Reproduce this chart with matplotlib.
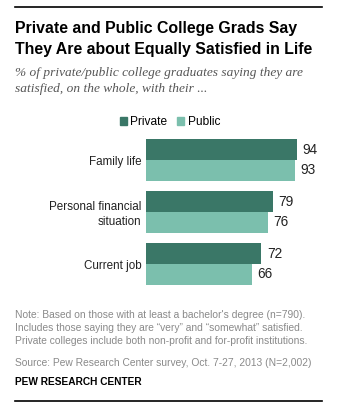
import matplotlib
matplotlib.use("Agg")
import matplotlib.pyplot as plt
from matplotlib.patches import Patch
from matplotlib.lines import Line2D

# data
categories = ["Family life", "Personal financial\nsituation", "Current job"]
private = [94, 79, 72]
public = [93, 76, 66]
series_names = ["Private", "Public"]

dark = "#3a7767"
light = "#7bbfad"

W, H = 337, 416
fig = plt.figure(figsize=(W / 100, H / 100), dpi=100)


def fx(px):
    return px / W


def fy(py):
    return 1 - py / H


sans = ["Liberation Sans", "DejaVu Sans"]
serif = ["Liberation Serif", "DejaVu Serif"]

# rules at top and bottom
fig.add_artist(Line2D([fx(15), fx(322)], [fy(7), fy(7)], color="black", lw=1.2))
fig.add_artist(Line2D([fx(15), fx(322)], [fy(401), fy(401)], color="black", lw=1.2))

fig.text(fx(15), fy(33), "Private and Public College Grads Say", fontsize=11.4,
         fontweight="bold", family=sans, va="baseline")
fig.text(fx(15), fy(54), "They Are about Equally Satisfied in Life", fontsize=11.4,
         fontweight="bold", family=sans, va="baseline")
fig.text(fx(15), fy(76), "% of private/public college graduates saying they are",
         fontsize=9.6, style="italic", family=serif, color="#555555", va="baseline")
fig.text(fx(15), fy(92), "satisfied, on the whole, with their ...",
         fontsize=9.6, style="italic", family=serif, color="#555555", va="baseline")

# bars
top_px, bot_px = 139, 285
left_px = 145.7
ax = fig.add_axes([fx(left_px), fy(bot_px), fx(160.7), (bot_px - top_px) / H])
bh = 21 / 52
ys = list(range(len(categories)))
ax.barh([y - bh / 2 for y in ys], private, height=bh, color=dark)
ax.barh([y + bh / 2 for y in ys], public, height=bh, color=light)
ax.set_xlim(0, 100)
ax.set_ylim(len(categories) - 1 + bh, -bh)
for s in ax.spines.values():
    s.set_visible(False)
ax.set_xticks([])
ax.set_yticks(ys)
ax.set_yticklabels(categories, fontsize=8.4, family=sans,
                   color="#222222", linespacing=1.3)
ax.tick_params(axis="y", length=0, pad=3)

for y, a, b in zip(ys, private, public):
    ax.text(a + 3.5, y - bh / 2, str(a), va="center", ha="left", fontsize=9.8,
            family=sans, color="#222222")
    ax.text(b + 3.5, y + bh / 2, str(b), va="center", ha="left", fontsize=9.8,
            family=sans, color="#222222")

handles = [Patch(color=dark), Patch(color=light)]
fig.legend(handles, series_names, loc="center", bbox_to_anchor=(fx(170), fy(122)),
           ncol=2, frameon=False, handlelength=0.6, handleheight=0.6,
           handletextpad=0.3, columnspacing=0.8, borderpad=0,
           prop={"family": sans, "size": 8.6})

note_kw = dict(fontsize=7.35, family=sans, color="#8a8a8a", va="baseline")
fig.text(fx(15), fy(318), "Note: Based on those with at least a bachelor's degree (n=790).", **note_kw)
fig.text(fx(15), fy(331), "Includes those saying they are \u201cvery\u201d and \u201csomewhat\u201d satisfied.", **note_kw)
fig.text(fx(15), fy(344), "Private colleges include both non-profit and for-profit institutions.", **note_kw)
fig.text(fx(15), fy(366), "Source: Pew Research Center survey, Oct. 7-27, 2013 (N=2,002)", **note_kw)
fig.text(fx(15), fy(385), "PEW RESEARCH CENTER", fontsize=7.3, fontweight="bold",
         family=sans, color="black", va="baseline")

fig.savefig("out.png", dpi=100)
